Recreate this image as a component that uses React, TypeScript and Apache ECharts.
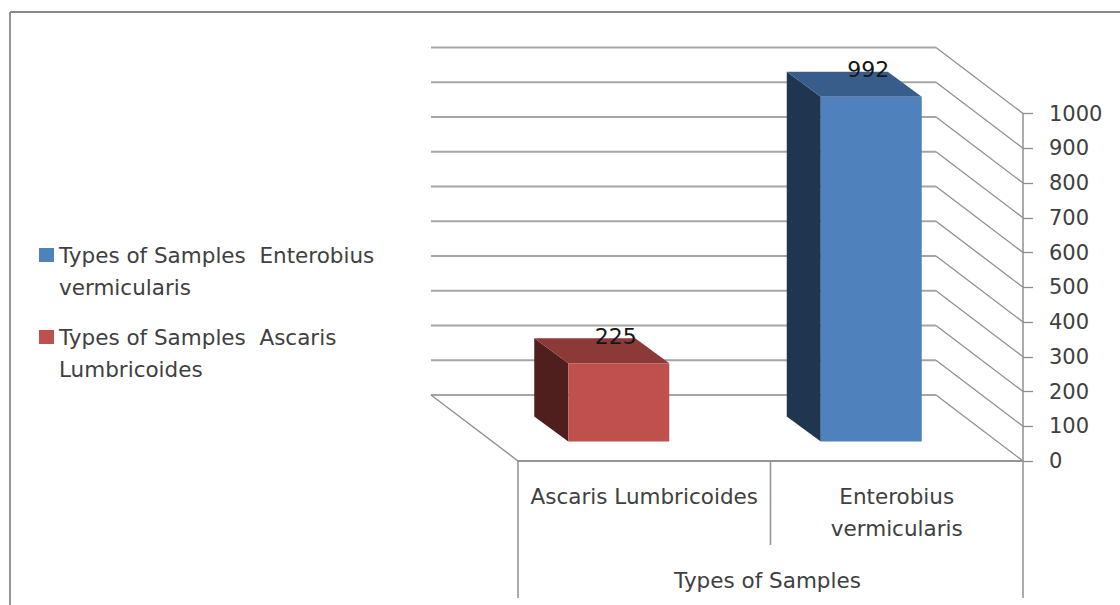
import React, { useEffect, useRef } from "react";
import * as echarts from "echarts";

const categories = ["Ascaris Lumbricoides", "Enterobius\nvermicularis"];
const ascarisSeriesName = "Types of Samples  Ascaris Lumbricoides";
const enterobiusSeriesName = "Types of Samples  Enterobius vermicularis";
const ascarisValues = [[0, 225]];
const enterobiusValues = [[1, 992]];
const axisTicks = [0, 100, 200, 300, 400, 500, 600, 700, 800, 900, 1000];
const axisTitle = "Types of Samples";

const FONT = "'DejaVu Sans', sans-serif";
const TEXT = "#404040";

// Oblique projection of the chart's depth axis, in pixels.
const DEPTH_X = -87;
const DEPTH_Y = -66;
const BOX_DX = -34;
const BOX_DY = -25;
const BOX_WIDTH = 101;
const BOX_SHIFT = -25.5;
const BOX_LIFT = -19.5;

function renderBox(front: string, top: string, side: string) {
  return (params: any, api: any) => {
    const cat = api.value(0);
    const value = api.value(1);
    const base = api.coord([cat, 0]);
    const head = api.coord([cat, value]);
    const x0 = base[0] + BOX_SHIFT - BOX_WIDTH / 2;
    const x1 = x0 + BOX_WIDTH;
    const yB = base[1] + BOX_LIFT;
    const yT = head[1] + BOX_LIFT;
    return {
      type: "group",
      children: [
        {
          type: "polygon",
          shape: { points: [[x0, yB], [x0, yT], [x0 + BOX_DX, yT + BOX_DY], [x0 + BOX_DX, yB + BOX_DY]] },
          style: { fill: side },
        },
        {
          type: "polygon",
          shape: { points: [[x0, yT], [x1, yT], [x1 + BOX_DX, yT + BOX_DY], [x0 + BOX_DX, yT + BOX_DY]] },
          style: { fill: top },
        },
        { type: "rect", shape: { x: x0, y: yT, width: BOX_WIDTH, height: yB - yT }, style: { fill: front } },
        {
          type: "text",
          x: (x0 + x1) / 2 - 3,
          y: yT - 27,
          style: {
            text: String(value),
            fill: "#151515",
            font: `22px ${FONT}`,
            align: "center",
            verticalAlign: "middle",
          },
        },
      ],
    };
  };
}

// Back wall rule and the side-wall rule running forward to the value axis.
function renderWallLine(params: any, api: any) {
  const value = api.value(1);
  const band = api.size([1, 0])[0];
  const [first, y] = api.coord([0, value]);
  const last = api.coord([categories.length - 1, value])[0];
  const xLeft = first - band / 2;
  const xRight = last + band / 2;
  const backY = y + DEPTH_Y;
  const children: any[] = [
    {
      type: "line",
      shape: { x1: xLeft + DEPTH_X, y1: backY, x2: xRight + DEPTH_X, y2: backY },
      style: { stroke: "#a6a6a6", lineWidth: 2 },
    },
    {
      type: "line",
      shape: { x1: xRight + DEPTH_X, y1: backY, x2: xRight, y2: y },
      style: { stroke: "#8f8f8f", lineWidth: 1.3 },
    },
  ];
  if (value === 0) {
    children.push({
      type: "line",
      shape: { x1: xLeft + DEPTH_X, y1: backY, x2: xLeft, y2: y },
      style: { stroke: "#8f8f8f", lineWidth: 1.3 },
    });
  }
  return { type: "group", children };
}

// Long separators under the category axis: outer group edges and the inner divider.
function renderDivider(params: any, api: any) {
  const cat = api.value(0);
  const side = api.value(1);
  const drop = api.value(2);
  const band = api.size([1, 0])[0];
  const [cx, y] = api.coord([cat, 0]);
  const x = cx + (side * band) / 2;
  return {
    type: "line",
    shape: { x1: x, y1: y, x2: x, y2: y + drop },
    style: { stroke: "#969696", lineWidth: 1.6 },
  };
}

export default function App() {
  const ref = useRef<HTMLDivElement>(null);

  useEffect(() => {
    const chart = echarts.init(ref.current!, undefined, { renderer: "svg" });
    chart.setOption({
      animation: false,
      backgroundColor: "#ffffff",
      grid: { left: 518, right: 97, top: 113.5, bottom: 144 },
      legend: {
        orient: "vertical",
        left: 34,
        top: 202,
        itemWidth: 15,
        itemHeight: 14,
        itemGap: -14,
        icon: "rect",
        selectedMode: false,
        data: [enterobiusSeriesName, ascarisSeriesName],
        // The blank first line keeps each swatch level with the first text line.
        formatter: (name: string) =>
          name === enterobiusSeriesName
            ? "\nTypes of Samples  Enterobius\nvermicularis"
            : "\nTypes of Samples  Ascaris\nLumbricoides",
        textStyle: { color: TEXT, fontFamily: FONT, fontSize: 21.5, lineHeight: 32 },
      },
      xAxis: {
        type: "category",
        data: categories,
        boundaryGap: true,
        axisLine: { show: true, lineStyle: { color: "#969696", width: 2 } },
        axisTick: { show: false },
        axisLabel: {
          interval: 0,
          margin: 19,
          color: TEXT,
          fontFamily: FONT,
          fontSize: 21.5,
          lineHeight: 32,
          verticalAlign: "top",
        },
        name: axisTitle,
        nameLocation: "middle",
        nameGap: 108,
        nameTextStyle: { color: TEXT, fontFamily: FONT, fontSize: 21.5, padding: [0, 6, 0, 0] },
      },
      yAxis: {
        type: "value",
        position: "right",
        min: 0,
        max: 1000,
        interval: 100,
        axisLine: { show: true, lineStyle: { color: "#969696", width: 1.6 } },
        axisTick: { show: true, inside: false, length: 10, lineStyle: { color: "#8f8f8f", width: 1.3 } },
        axisLabel: {
          margin: 26,
          color: TEXT,
          fontFamily: FONT,
          fontSize: 21,
          formatter: (v: number) => String(v),
        },
        splitLine: { show: false },
      },
      graphic: [
        { type: "line", shape: { x1: 10, y1: 12, x2: 1120, y2: 12 }, style: { stroke: "#8a8a8a", lineWidth: 1.8 } },
        { type: "line", shape: { x1: 10, y1: 12, x2: 10, y2: 605 }, style: { stroke: "#8a8a8a", lineWidth: 1.8 } },
      ],
      series: [
        {
          type: "custom",
          name: "walls",
          data: axisTicks.map((v) => [0, v]),
          renderItem: renderWallLine,
          encode: { x: 0, y: 1 },
          silent: true,
          z: 1,
        },
        {
          type: "custom",
          name: "dividers",
          data: [[0, -1, 137], [0, 1, 84], [1, 1, 137]],
          renderItem: renderDivider,
          encode: { x: 0 },
          silent: true,
          z: 1,
        },
        {
          type: "custom",
          name: ascarisSeriesName,
          data: ascarisValues,
          encode: { x: 0, y: 1 },
          itemStyle: { color: "#C0504D" },
          renderItem: renderBox("#C0504D", "#8C3A38", "#4F1F1D"),
          z: 2,
        },
        {
          type: "custom",
          name: enterobiusSeriesName,
          data: enterobiusValues,
          encode: { x: 0, y: 1 },
          itemStyle: { color: "#4F81BD" },
          renderItem: renderBox("#4F81BD", "#385D8A", "#1F3550"),
          z: 2,
        },
      ],
    });
    return () => chart.dispose();
  }, []);

  return (
    <div
      ref={ref}
      style={{ position: "fixed", left: 0, top: 0, width: 1120, height: 605, background: "#fff" }}
    />
  );
}
